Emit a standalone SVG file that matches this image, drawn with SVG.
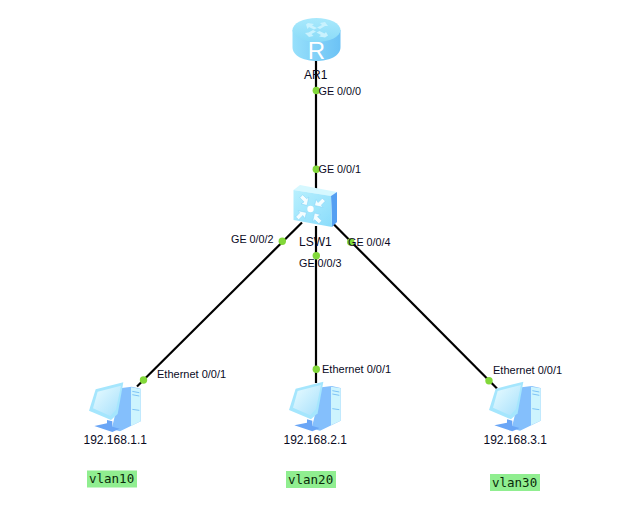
<svg xmlns="http://www.w3.org/2000/svg" width="627" height="524" viewBox="0 0 627 524">
<style>
.link{stroke:#000;stroke-width:2.2;fill:none}
.dot{fill:#82d83a}
.t{font-family:"Liberation Sans",Arial,sans-serif;font-size:10.800px;fill:#0a0a1e}
.e{font-family:"Liberation Sans",Arial,sans-serif;font-size:11px;fill:#0a0a1e}
.n{font-family:"Liberation Sans",Arial,sans-serif;font-size:12px;fill:#0a0a1e}
.v{font-family:"DejaVu Sans Mono",monospace;font-size:12.500px;fill:#0a2a0a}
.tag{fill:#90ee90}
.arrow{fill:#f4fdff;stroke:#7fd0f6;stroke-width:.5}
</style>
<defs>
<linearGradient id="routerTop" x1="0" y1="0" x2="0" y2="1"><stop offset="0" stop-color="#a9e9fc"/><stop offset="1" stop-color="#8adbf8"/></linearGradient>
<linearGradient id="routerBody" x1="0" y1="0" x2="1" y2="0"><stop offset="0" stop-color="#97e0fb"/><stop offset="1" stop-color="#6cc2f5"/></linearGradient>
<linearGradient id="swFront" x1="0" y1="0" x2="1" y2="1"><stop offset="0" stop-color="#b8f0fe"/><stop offset="1" stop-color="#8adcfb"/></linearGradient>
<linearGradient id="screen" x1="0" y1="0" x2="1" y2="1"><stop offset="0" stop-color="#eafcff"/><stop offset="1" stop-color="#a6e0fc"/></linearGradient>
<!-- workstation: monitor, tower and stand, drawn at 3x and scaled down -->
<g id="pc" transform="scale(.3333)">
<path d="M140 82 170 78 197 84 197 182 135 212 110 205Z" fill="#84bffc"/>
<path d="M168 80 197 85 197 182 168 196Z" fill="#cdf4fe"/>
<path d="M172 92 193 96M172 102 193 106M172 146 193 149" stroke="#7dc3f5" stroke-width="3" fill="none"/>
<path d="M96 178 112 182 112 198 134 204 112 214 58 196 96 188Z" fill="#6aa6f6"/>
<path d="M62 86 145 65 128 160 108 178 42 150Z" fill="#a5e6fd"/>
<path d="M68 93 138 75 123 147 106 166 54 143Z" fill="url(#screen)"/>
</g>
<!-- one inward-pointing arrow of the switch badge, tip at the origin -->
<path id="inArrow" class="arrow" d="M0 0 1.800 -8.500 -.3 -6.800 -4.400 -10.800 -7.200 -7.800 -3 -3.600 -6 -1.700Z"/>
</defs>

<g id="connectors">
<line class="link" x1="316" y1="58" x2="316" y2="190"/>
<line class="link" x1="316" y1="226" x2="316" y2="383"/>
<line class="link" x1="302" y1="222.500" x2="137" y2="386.500"/>
<line class="link" x1="332.500" y1="223" x2="497" y2="388.500"/>
<circle class="dot" cx="316.300" cy="90.500" r="3.700"/>
<circle class="dot" cx="316.300" cy="169.300" r="3.700"/>
<circle class="dot" cx="282.300" cy="241.300" r="3.700"/>
<circle class="dot" cx="316.300" cy="255.800" r="3.700"/>
<circle class="dot" cx="350.700" cy="242" r="3.700"/>
<circle class="dot" cx="143.500" cy="380" r="3.700"/>
<circle class="dot" cx="316.300" cy="369.300" r="3.700"/>
<circle class="dot" cx="489" cy="380.700" r="3.700"/>
</g>

<g id="AR1">
<path d="M292.500 30V47C292.500 56 304 61 316.500 61S340.500 56 340.500 47V30Z" fill="url(#routerBody)"/>
<ellipse cx="316.500" cy="30" rx="24" ry="12" fill="url(#routerTop)"/>
<path d="M308 23 314 24 312 25.500 317 28 314 29.500 309 27 307.500 29 306 24.500ZM325 22 328 26 325 26 320 29 317 27.500 322 25 320 23ZM309 37 305 33 308.500 32.500 313 30 316 31.500 311.500 34 313.500 36ZM325 37.500 319 36.500 321 35 316.500 32.500 319.500 31 324.500 33.500 326 32 328 35.500Z" fill="#c9f2fe"/>
<text x="316.500" y="58.500" text-anchor="middle" font-family="Liberation Sans,Arial,sans-serif" font-size="24" fill="#fff">R</text>
<text class="n" x="304" y="79">AR1</text>
<text class="t" x="318.500" y="94.500">GE 0/0/0</text>
<text class="t" x="318.500" y="173">GE 0/0/1</text>
</g>

<g id="LSW1">
<path d="M293.500 190 300 185 337 192 331 196Z" fill="#d6f8ff"/>
<path d="M331 196 337 192 337 222 332 227Z" fill="#549ff2"/>
<path d="M293.500 190 331 196 332 227 293.500 220Z" fill="url(#swFront)"/>
<circle cx="310.500" cy="209" r="3.200" fill="#fff"/>
<use href="#inArrow" transform="translate(307 205.500)"/>
<use href="#inArrow" transform="translate(314.500 205.500) rotate(90)"/>
<use href="#inArrow" transform="translate(314.500 213) rotate(180)"/>
<use href="#inArrow" transform="translate(306.500 212.500) rotate(270)"/>
<text class="n" x="299" y="245.500">LSW1</text>
<text class="t" x="231" y="243">GE 0/0/2</text>
<text class="t" x="299" y="267">GE 0/0/3</text>
<text class="t" x="348" y="246">GE 0/0/4</text>
</g>

<g id="PC1">
<use href="#pc" transform="translate(75 360.700)"/>
<text class="n" x="83.500" y="444">192.168.1.1</text>
<text class="e" x="157" y="378">Ethernet 0/0/1</text>
</g>
<g id="PC2">
<use href="#pc" transform="translate(275 360)"/>
<text class="n" x="283.500" y="444">192.168.2.1</text>
<text class="e" x="322" y="373">Ethernet 0/0/1</text>
</g>
<g id="PC3">
<use href="#pc" transform="translate(475 360)"/>
<text class="n" x="483.500" y="444">192.168.3.1</text>
<text class="e" x="493" y="374">Ethernet 0/0/1</text>
</g>

<g id="vlan10">
<rect class="tag" x="87" y="470.500" width="50" height="17"/>
<text class="v" x="89" y="482.500">vlan10</text>
</g>
<g id="vlan20">
<rect class="tag" x="286" y="471" width="50" height="17"/>
<text class="v" x="288" y="483.500">vlan20</text>
</g>
<g id="vlan30">
<rect class="tag" x="490" y="474" width="50" height="17"/>
<text class="v" x="492" y="486.500">vlan30</text>
</g>
</svg>
